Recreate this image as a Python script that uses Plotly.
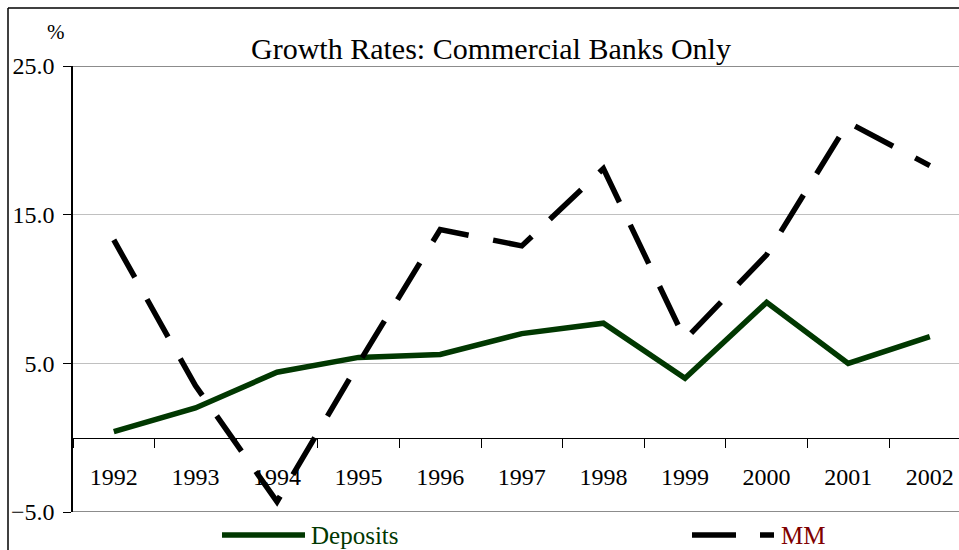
import plotly.graph_objects as go

# Annual growth rates, commercial banks only (%)
years = ["1992", "1993", "1994", "1995", "1996", "1997",
         "1998", "1999", "2000", "2001", "2002"]
deposits = [0.4, 2.0, 4.4, 5.4, 5.6, 7.0, 7.7, 4.0, 9.1, 5.0, 6.8]
mm = [13.3, 3.5, -4.3, 5.0, 14.0, 12.9, 18.1, 6.6, 12.3, 21.2, 18.3]

y_ticks = [-5, 5, 15, 25]

W, H = 959, 550
ML, MR, MT, MB = 73, 0, 66, 38
PW, PH = W - ML - MR, H - MT - MB

SERIF = "Liberation Serif"
GREEN = "#013801"
RED = "#800000"


def px_x(px):
    """Pixel column -> paper x."""
    return (px - ML) / PW


def px_y(py):
    """Pixel row -> paper y."""
    return (H - MB - py) / PH


fig = go.Figure()

fig.add_trace(go.Scatter(
    x=years, y=deposits, mode="lines", name="Deposits",
    line=dict(color=GREEN, width=5.5),
))
fig.add_trace(go.Scatter(
    x=years, y=mm, mode="lines", name="MM",
    line=dict(color="black", width=5.5, dash="43px,25px"),
))

shapes = [
    # outer chart frame (top and left edges)
    dict(type="line", xref="paper", yref="paper",
         x0=px_x(8), x1=px_x(W + 2), y0=px_y(8), y1=px_y(8),
         line=dict(color="black", width=1.5)),
    dict(type="line", xref="paper", yref="paper",
         x0=px_x(8), x1=px_x(8), y0=px_y(8), y1=px_y(H + 2),
         line=dict(color="black", width=1.5)),
    # plot area top and bottom edges
    dict(type="line", xref="paper", yref="y",
         x0=0, x1=1, y0=25, y1=25, line=dict(color="#8c8c8c", width=2)),
    dict(type="line", xref="paper", yref="y",
         x0=0, x1=1, y0=-5, y1=-5, line=dict(color="#8c8c8c", width=2)),
    # legend samples
    dict(type="line", xref="paper", yref="paper",
         x0=px_x(222), x1=px_x(305), y0=px_y(535), y1=px_y(535),
         line=dict(color=GREEN, width=5.5)),
    dict(type="line", xref="paper", yref="paper",
         x0=px_x(692), x1=px_x(774), y0=px_y(535), y1=px_y(535),
         line=dict(color="black", width=5.5, dash="44px,24px")),
]

annotations = [
    dict(text="%", xref="paper", yref="paper", x=px_x(56), y=px_y(32),
         xanchor="center", yanchor="middle", showarrow=False,
         font=dict(family=SERIF, size=21, color="black")),
    dict(text="Deposits", xref="paper", yref="paper", x=px_x(309), y=px_y(535),
         xanchor="left", yanchor="middle", showarrow=False,
         font=dict(family=SERIF, size=25, color=GREEN)),
    dict(text="MM", xref="paper", yref="paper", x=px_x(779), y=px_y(535),
         xanchor="left", yanchor="middle", showarrow=False,
         font=dict(family=SERIF, size=25, color=RED)),
]

fig.update_layout(
    width=W, height=H,
    margin=dict(l=ML, r=MR, t=MT, b=MB, pad=0),
    paper_bgcolor="white", plot_bgcolor="white",
    showlegend=False,
    title=dict(text="Growth Rates: Commercial Banks Only",
               x=491 / W, y=1 - 48 / H, xref="container", yref="container",
               xanchor="center", yanchor="middle",
               font=dict(family=SERIF, size=30, color="black")),
    xaxis=dict(
        type="category", range=[-0.5, -0.5 + PW / 81.6],
        anchor="free", position=5 / 30,
        showline=True, linecolor="black", linewidth=1.2,
        ticks="outside", ticklen=9, tickcolor="black", tickwidth=1.2,
        tickson="boundaries", showgrid=False, zeroline=False,
        ticklabelstandoff=17,
        tickfont=dict(family=SERIF, size=24, color="black"),
    ),
    yaxis=dict(
        range=[-5, 25], tickvals=y_ticks, tickformat=".1f",
        showline=True, linecolor="black", linewidth=1.5,
        ticks="outside", ticklen=8, tickcolor="black", tickwidth=1.2,
        showgrid=True, gridcolor="#c0c0c0", gridwidth=1, zeroline=False,
        ticklabelstandoff=4,
        tickfont=dict(family=SERIF, size=24, color="black"),
    ),
    shapes=shapes,
    annotations=annotations,
)

fig.write_html("out.html")
